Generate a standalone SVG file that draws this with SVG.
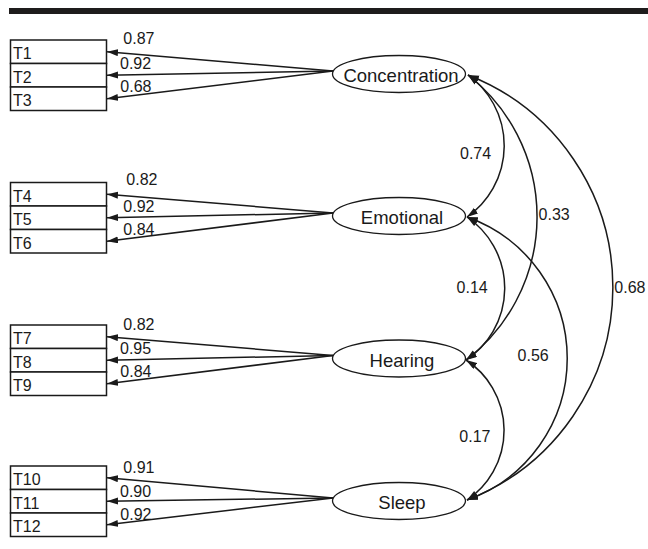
<svg xmlns="http://www.w3.org/2000/svg" width="648" height="549" viewBox="0 0 648 549">
<style>
  .box { fill: #fff; stroke: #1a1a1a; stroke-width: 1.5; }
  .lat { fill: #fff; stroke: #1a1a1a; stroke-width: 1.3; }
  .tl { font-family: "Liberation Sans", Arial, sans-serif; font-size: 16px; fill: #1a1a1a; }
  .ll { font-family: "Liberation Sans", Arial, sans-serif; font-size: 18.5px; fill: #1a1a1a; text-anchor: middle; }
  .num { font-family: "Liberation Sans", Arial, sans-serif; font-size: 16px; fill: #1a1a1a; }
  .path { fill: none; stroke: #1a1a1a; stroke-width: 1.5; marker-end: url(#ah); }
  .cov { fill: none; stroke: #1a1a1a; stroke-width: 1.5; marker-start: url(#ah); marker-end: url(#ah); }
</style>
<defs>
  <marker id="ah" markerUnits="userSpaceOnUse" markerWidth="12" markerHeight="8" refX="11" refY="3.5" orient="auto-start-reverse">
    <path d="M0,0 L11,3.5 L0,7 z" fill="#1a1a1a"/>
  </marker>
</defs>
<rect x="9" y="8" width="639" height="6" fill="#1e1c1c"/>

<g id="T1"><rect class="box" x="10.5" y="40" width="96" height="23.5"/><text class="tl" x="13" y="59.3">T1</text></g>
<g id="T2"><rect class="box" x="10.5" y="63.5" width="96" height="23.5"/><text class="tl" x="13" y="82.8">T2</text></g>
<g id="T3"><rect class="box" x="10.5" y="87" width="96" height="23.5"/><text class="tl" x="13" y="106.3">T3</text></g>
<g id="T4"><rect class="box" x="10.5" y="182.5" width="96" height="23.5"/><text class="tl" x="13" y="201.8">T4</text></g>
<g id="T5"><rect class="box" x="10.5" y="206" width="96" height="23.5"/><text class="tl" x="13" y="225.3">T5</text></g>
<g id="T6"><rect class="box" x="10.5" y="229.5" width="96" height="23.5"/><text class="tl" x="13" y="248.8">T6</text></g>
<g id="T7"><rect class="box" x="10.5" y="325" width="96" height="23.5"/><text class="tl" x="13" y="344.3">T7</text></g>
<g id="T8"><rect class="box" x="10.5" y="348.5" width="96" height="23.5"/><text class="tl" x="13" y="367.8">T8</text></g>
<g id="T9"><rect class="box" x="10.5" y="372" width="96" height="23.5"/><text class="tl" x="13" y="391.3">T9</text></g>
<g id="T10"><rect class="box" x="10.5" y="466" width="96" height="23.5"/><text class="tl" x="13" y="485.3">T10</text></g>
<g id="T11"><rect class="box" x="10.5" y="489.5" width="96" height="23.5"/><text class="tl" x="13" y="508.8">T11</text></g>
<g id="T12"><rect class="box" x="10.5" y="513" width="96" height="23.5"/><text class="tl" x="13" y="532.3">T12</text></g>

<g id="Concentration"><ellipse class="lat" cx="399" cy="74" rx="66.5" ry="18.5"/><text class="ll" x="401" y="81.5">Concentration</text></g>
<g id="Emotional"><ellipse class="lat" cx="399" cy="216" rx="66.5" ry="18.5"/><text class="ll" x="402" y="224">Emotional</text></g>
<g id="Hearing"><ellipse class="lat" cx="399" cy="358.5" rx="66.5" ry="18.5"/><text class="ll" x="402" y="366.5">Hearing</text></g>
<g id="Sleep"><ellipse class="lat" cx="399" cy="501" rx="66.5" ry="18.5"/><text class="ll" x="402" y="508.5">Sleep</text></g>

<g id="connectors">
  <path class="path" d="M333,71 L107,51.75"/>
  <path class="path" d="M333,71 L107,75.25"/>
  <path class="path" d="M333,71 L107,98.75"/>
  <path class="path" d="M333,213 L107,194.25"/>
  <path class="path" d="M333,213 L107,217.75"/>
  <path class="path" d="M333,213 L107,241.25"/>
  <path class="path" d="M333,355.5 L107,336.75"/>
  <path class="path" d="M333,355.5 L107,360.25"/>
  <path class="path" d="M333,355.5 L107,383.75"/>
  <path class="path" d="M333,498 L107,477.75"/>
  <path class="path" d="M333,498 L107,501.25"/>
  <path class="path" d="M333,498 L107,524.75"/>

  <path class="cov" d="M468,75 A87,87 0 0 1 467,217"/>
  <path class="cov" d="M468,75 A180,180 0 0 1 466,360"/>
  <path class="cov" d="M468,75 A228,228 0 0 1 467,500"/>
  <path class="cov" d="M467,217 A86,86 0 0 1 466,360"/>
  <path class="cov" d="M467,217 A150,150 0 0 1 467,500"/>
  <path class="cov" d="M466,360 A84,84 0 0 1 467,500"/>

  <text class="num" x="123.3" y="44">0.87</text>
  <text class="num" x="120" y="69.3">0.92</text>
  <text class="num" x="120.3" y="91.7">0.68</text>
  <text class="num" x="126.3" y="185">0.82</text>
  <text class="num" x="123.3" y="211.7">0.92</text>
  <text class="num" x="123.3" y="235">0.84</text>
  <text class="num" x="123.3" y="330">0.82</text>
  <text class="num" x="120" y="354">0.95</text>
  <text class="num" x="120.3" y="376.7">0.84</text>
  <text class="num" x="123.3" y="472.7">0.91</text>
  <text class="num" x="120" y="496.7">0.90</text>
  <text class="num" x="120.3" y="520">0.92</text>

  <text class="num" x="460" y="159">0.74</text>
  <text class="num" x="538.6" y="220">0.33</text>
  <text class="num" x="456.6" y="292.7">0.14</text>
  <text class="num" x="614.3" y="292.7">0.68</text>
  <text class="num" x="517.6" y="360.7">0.56</text>
  <text class="num" x="459.3" y="441.7">0.17</text>
</g>
</svg>
